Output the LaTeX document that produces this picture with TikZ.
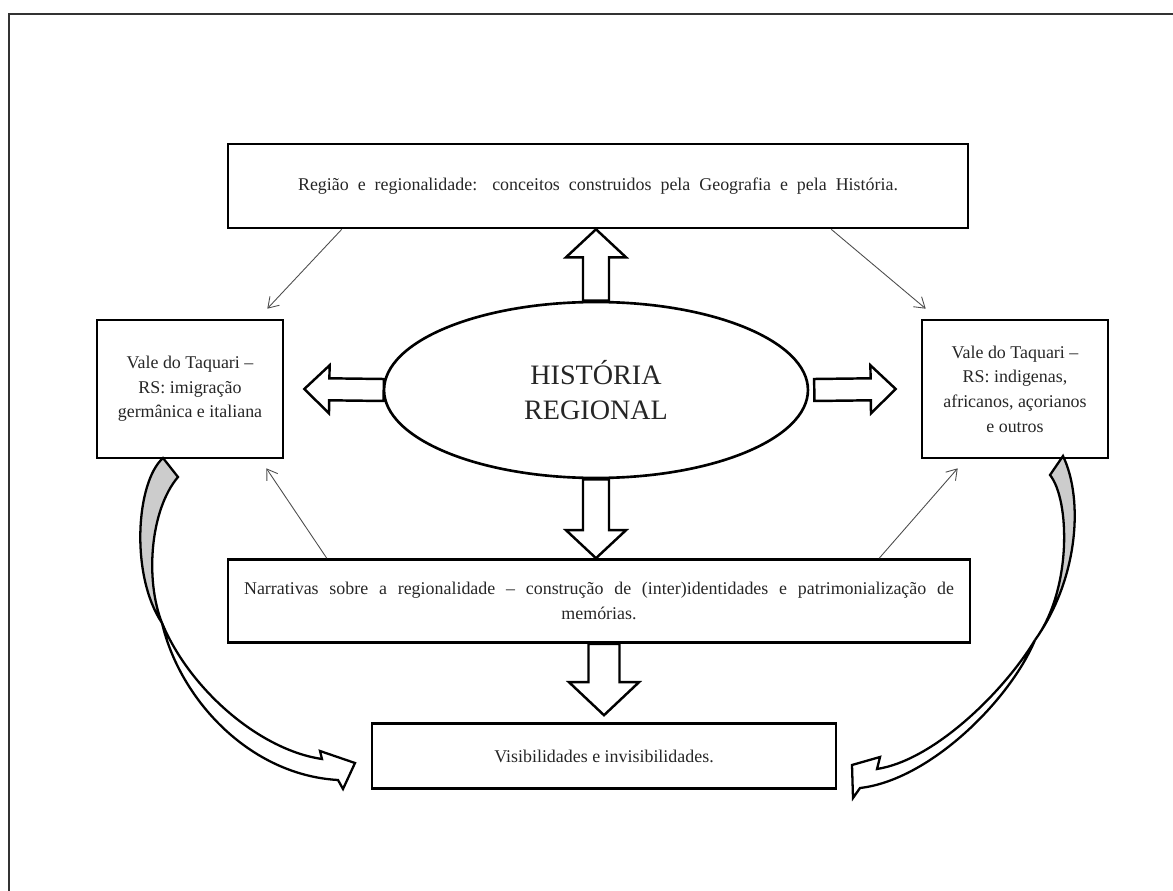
\documentclass[tikz,border=0pt]{standalone}
\usepackage{fontspec}
\setmainfont{Liberation Serif}
\usetikzlibrary{calc,shapes.geometric,arrows.meta}
\def\fatarrow[#1](#2)(#3)(#4:#5:#6){%
	\coordinate (fa-s) at (#2);
	\coordinate (fa-e) at (#3);
	\coordinate (fa-b) at ($(fa-e)!#6!(fa-s)$);
	\draw[#1] ($(fa-s)!#4!90:(fa-e)$) -- ($(fa-b)!#4!90:(fa-e)$) -- ($(fa-b)!#5!90:(fa-e)$) -- (fa-e)
		-- ($(fa-b)!#5!-90:(fa-e)$) -- ($(fa-b)!#4!-90:(fa-e)$) -- ($(fa-s)!#4!-90:(fa-e)$) -- cycle;}
\tikzset{
	box/.style={draw, line width=1.5pt, align=center, inner sep=0pt, text=black!85, font=\fontsize{10.2}{14}\selectfont},
	fat/.style={draw, line width=1.4pt, fill=white, line join=miter},
	thin/.style={black!70, line width=0.5pt, -{Straight Barb[length=2mm,width=2.6mm]}},
	bendarrow/.style={draw, line width=1.3pt, line join=miter}
}

\begin{document}
\begin{tikzpicture}[x=0.02cm, y=-0.02cm]
				%%%%% START %%%%%
				\useasboundingbox (0,0) rectangle (1173,891);
				\draw[line width=0.8pt, black!80] (9,891) -- (9,14) -- (1173,14);
				
				\node[box, minimum width=14.8cm, minimum height=1.68cm] (top) at (598,186) {\makebox[12cm][s]{Região e regionalidade: conceitos construidos pela Geografia e pela História.}};
				\node[box, minimum width=3.72cm, minimum height=2.76cm] (lbox) at (190,389) {Vale do Taquari –\\RS: imigração\\germânica e italiana};
				\node[box, minimum width=3.72cm, minimum height=2.76cm] (rbox) at (1015,389) {Vale do Taquari –\\RS: indigenas,\\africanos, açorianos\\e outros};
				\node[box, ellipse, minimum width=8.48cm, minimum height=3.52cm, font=\fontsize{16}{20}\selectfont] (ell) at (596,390) {HISTÓRIA\\REGIONAL};
				\node[box, minimum width=14.84cm, minimum height=1.66cm] (narr) at (599,601) {\makebox[14.2cm][s]{Narrativas sobre a regionalidade – construção de (inter)identidades e patrimonialização de}\\memórias.};
				\node[box, minimum width=9.28cm, minimum height=1.3cm] (vis) at (604,756) {Visibilidades e invisibilidades.};
				
				% thin arrows
				\coordinate (t1) at ($(top.south west)+(115,0)$);
				\coordinate (l1) at ($(lbox.north east)+(-17,-10)$);
				\coordinate (t2) at ($(top.south east)+(-138,0)$);
				\coordinate (r1) at ($(rbox.north west)+(5,-10)$);
				\coordinate (n1) at ($(narr.north west)+(100,0)$);
				\coordinate (l2) at ($(lbox.south east)+(-18,9)$);
				\coordinate (n2) at ($(narr.north east)+(-92,0)$);
				\coordinate (r2) at ($(rbox.south west)+(37,9)$);
				\draw[thin] (t1) -- (l1);
				\draw[thin] (t2) -- (r1);
				\draw[thin] (n1) -- (l2);
				\draw[thin] (n2) -- (r2);
				
				% block arrows
				\def\shaftw{0.26cm}
				\def\headw{0.6cm}
				\def\headl{0.56cm}
				\coordinate (fu-e) at (ell.north |- top.south);
				\coordinate (fd-e) at (ell.south |- narr.north);
				\fatarrow[fat](ell.north)(fu-e)(\shaftw:\headw:\headl)
				\fatarrow[fat](ell.south)(fd-e)(\shaftw:\headw:\headl)
				\coordinate (fl-s) at ($(ell.west)+(1,0)$);
				\coordinate (fl-e) at ($(lbox.east)+(20,0)$);
				\coordinate (fr-s) at ($(ell.east)+(5,0)$);
				\coordinate (fr-e) at ($(rbox.west)+(-25,0)$);
				\fatarrow[fat](fl-s)(fl-e)(0.22cm:0.48cm:0.5cm)
				\fatarrow[fat](fr-s)(fr-e)(0.22cm:0.48cm:0.5cm)
				\coordinate (fv-s) at (vis.north |- narr.south);
				\coordinate (fv-e) at ($(vis.north)+(0,-7)$);
				\fatarrow[fat](fv-s)(fv-e)(0.31cm:0.7cm:0.66cm)
				
				% curved arrows
				\draw[bendarrow, fill=black!20] (163,458) -- (178,477) .. controls (150,510) and (145,580) .. (162,623) .. controls (130,575) and (136,482) .. cycle;
				\draw[bendarrow, fill=white] (162,623) .. controls (180,700) and (250,775) .. (338,780) -- (343,789) -- (355,763) -- (320,751) -- (322,759) .. controls (260,750) and (190,690) .. cycle;
				\draw[bendarrow, fill=black!20] (1063,456) -- (1050,475) .. controls (1070,500) and (1072,590) .. (1035,640) .. controls (1078,580) and (1084,500) .. cycle;
				\draw[bendarrow, fill=white] (1035,640) .. controls (1010,700) and (930,780) .. (860,788) -- (853,798) -- (852,765) -- (880,757) -- (877,769) .. controls (935,760) and (1005,690) .. cycle;
				%%%%% END %%%%%
\end{tikzpicture}
\end{document}
